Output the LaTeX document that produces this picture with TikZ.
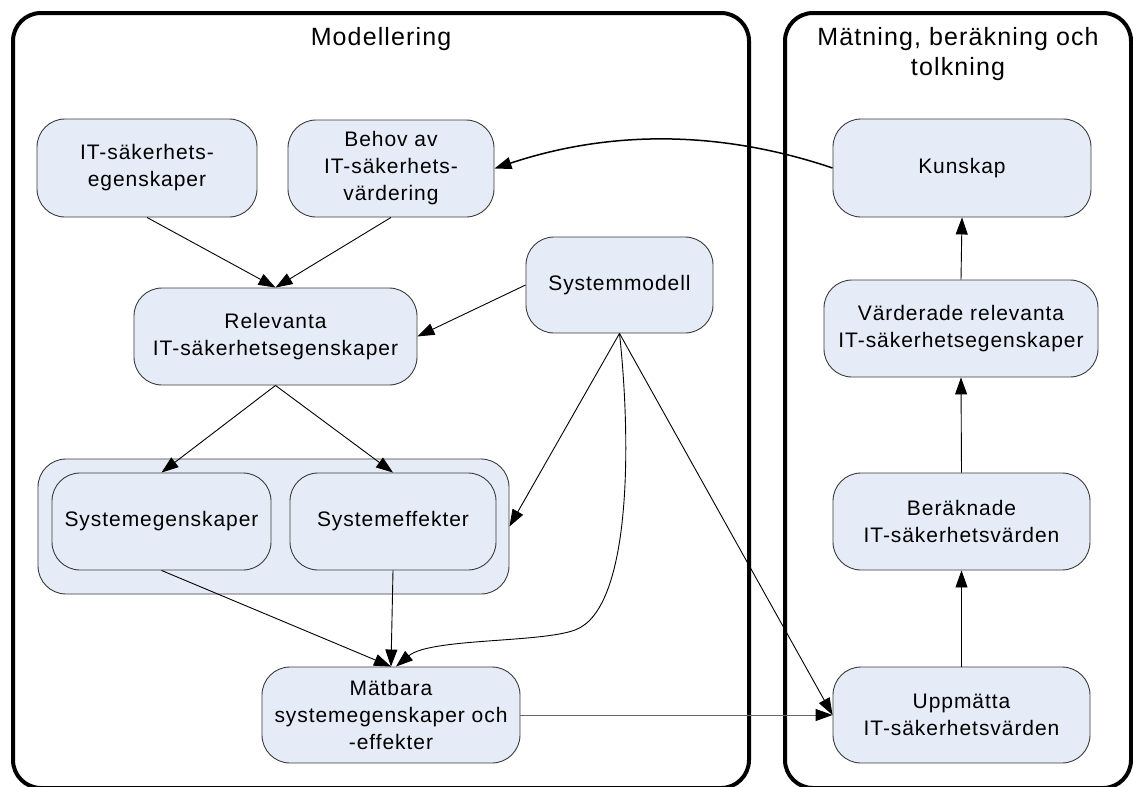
\documentclass[tikz,border=0pt]{standalone}
\usepackage{fontspec}
\setmainfont{Liberation Sans}[LetterSpace=4.5]
\usetikzlibrary{arrows.meta}
\definecolor{boxfill}{HTML}{E6ECF7}
\definecolor{boxline}{HTML}{3A3A3A}
\begin{document}
\begin{tikzpicture}[x=1pt,y=-1pt,
  box/.style={draw=boxline, fill=boxfill, line width=0.9pt, rounded corners=28pt,
    align=center, inner sep=0pt, font=\fontsize{21}{27}\selectfont},
  lane/.style={draw=black, line width=4pt, rounded corners=28pt},
  lanetitle/.style={align=center, inner sep=0pt, font=\fontsize{25}{30}\selectfont},
  conn/.style={line width=0.9pt, -{Triangle[length=17pt,width=12pt,color=black]}},
]
\useasboundingbox (0,0) rectangle (1133,787);

% swimlanes
\draw[lane] (13,13) rectangle (749,788);
\draw[lane] (785,13) rectangle (1131,788);
\node[lanetitle, anchor=base] (tmodel) at (381,45) {Modellering};
\node[lanetitle, anchor=base] (tmeas) at (958,75) {Mätning, beräkning och\\tolkning};

% modelling lane
\node[box, minimum width=220pt, minimum height=98pt] (itse) at (147,168) {IT-säkerhets-\\egenskaper};
\node[box, minimum width=206pt, minimum height=97pt] (behov) at (391,168.5) {Behov av\\IT-säkerhets-\\värdering};
\node[box, minimum width=283pt, minimum height=97pt] (relev) at (275.5,336.5) {Relevanta\\IT-säkerhetsegenskaper};
\node[box, minimum width=187pt, minimum height=96pt] (sysmod) at (619.5,285) {Systemmodell};
\node[box, minimum width=471pt, minimum height=135pt] (group) at (273.5,526.5) {};
\node[box, minimum width=219pt, minimum height=97pt] (syseg) at (161.5,521.5) {Systemegenskaper};
\node[box, minimum width=206pt, minimum height=97pt] (syseff) at (393,521.5) {Systemeffekter};
\node[box, minimum width=258pt, minimum height=96pt] (matb) at (391,715) {Mätbara\\systemegenskaper och\\-effekter};

% measurement lane
\node[box, minimum width=258pt, minimum height=98pt] (kunsk) at (962,168) {Kunskap};
\node[box, minimum width=274pt, minimum height=97pt] (vard) at (961,328.5) {Värderade relevanta\\IT-säkerhetsegenskaper};
\node[box, minimum width=257pt, minimum height=97pt] (berak) at (961.5,521.5) {Beräknade\\IT-säkerhetsvärden};
\node[box, minimum width=257pt, minimum height=96pt] (uppm) at (961.5,715) {Uppmätta\\IT-säkerhetsvärden};

% connectors
\draw[conn] (itse.south) -- (relev.north);
\draw[conn] (behov.south) -- (relev.north);
\draw[conn] (sysmod.west) -- (relev.east);
\draw[conn] (relev.south) -- (syseg.north);
\draw[conn] (relev.south) -- (syseff.north);
\draw[conn] (sysmod.south) -- (group.east);
\coordinate (sweep) at (575,630);
\draw[conn] (sysmod.south) .. controls (632,450) and (630,610) .. (sweep)
  .. controls (540,643) and (430,638) .. ([xshift=5pt]matb.north);
\draw[conn] (sysmod.south) -- (uppm.west);
\draw[conn] (syseg.south) -- (matb.north);
\draw[conn] (syseff.south) -- (matb.north);
\draw[conn, draw=black!60] (matb.east) -- (uppm.west);
\draw[conn] (uppm.north) -- (berak.south);
\draw[conn] (berak.north) -- (vard.south);
\draw[conn] (vard.north) -- (kunsk.south);
\draw[conn, line width=1.5pt] (kunsk.west) .. controls (720,130) and (610,130) .. (behov.east);
\end{tikzpicture}
\end{document}
